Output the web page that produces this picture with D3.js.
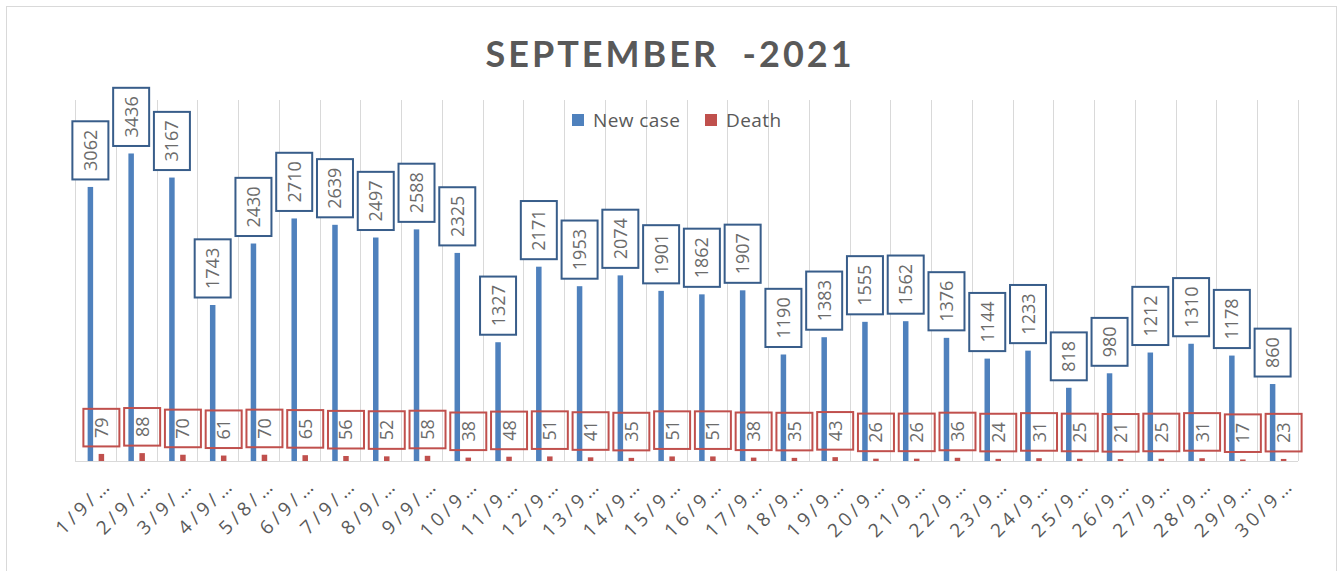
<!DOCTYPE html>
<html>
<head>
<meta charset="utf-8">
<script src="https://cdn.jsdelivr.net/npm/d3@7"></script>
<style>
  body { margin: 0; background: #fff; }
  svg { display: block; }
</style>
</head>
<body>
<svg id="chart" width="1339" height="571"></svg>
<script>
const days = ["1/9/…","2/9/…","3/9/…","4/9/…","5/8/…","6/9/…","7/9/…","8/9/…","9/9/…","10/9…",
  "11/9…","12/9…","13/9…","14/9…","15/9…","16/9…","17/9…","18/9…","19/9…","20/9…",
  "21/9…","22/9…","23/9…","24/9…","25/9…","26/9…","27/9…","28/9…","29/9…","30/9…"];
const newCases = [3062,3436,3167,1743,2430,2710,2639,2497,2588,2325,1327,2171,1953,2074,1901,
  1862,1907,1190,1383,1555,1562,1376,1144,1233,818,980,1212,1310,1178,860];
const deaths = [79,88,70,61,70,65,56,52,58,38,48,51,41,35,51,51,38,35,43,26,26,36,24,31,25,21,25,31,17,23];
const seriesNames = ["New case","Death"];
const yMax = 4000;

const BLUE = "#4F81BD", RED = "#C0504D";
const TEXT = "#595959";

const svg = d3.select("#chart");

// chart frame
svg.append("rect")
  .attr("x",6.5).attr("y",6.5).attr("width",1330).attr("height",570)
  .attr("fill","none").attr("stroke","#D9D9D9");

const x = d3.scaleBand().domain(days).range([75,1298]).padding(0);
const y = d3.scaleLinear().domain([0,yMax]).range([461,103]);
const bw = 5.5;

// vertical gridlines at category edges
const edges = d3.range(days.length+1).map(i => 75 + i*x.bandwidth());
svg.append("g").selectAll("line").data(edges).enter().append("line")
  .attr("x1",d=>Math.round(d)+0.5).attr("x2",d=>Math.round(d)+0.5)
  .attr("y1",100).attr("y2",461)
  .attr("stroke","#D9D9D9").attr("stroke-width",1);

// title
svg.append("text")
  .attr("x",670).attr("y",67)
  .attr("text-anchor","middle")
  .style("white-space","pre")
  .style("font-family","Lato, 'Open Sans', sans-serif")
  .style("font-weight","bold")
  .style("font-size","36px")
  .style("letter-spacing","3px")
  .attr("fill",TEXT)
  .text("SEPTEMBER  -2021");

// legend
const legend = svg.append("g").attr("transform","translate(572,114)");
const legX = [0,133];
seriesNames.forEach((n,i)=>{
  const g = legend.append("g").attr("transform",`translate(${legX[i]},0)`);
  g.append("rect").attr("width",12).attr("height",12).attr("fill",i===0?BLUE:RED);
  g.append("text").attr("x",21).attr("y",13)
    .style("font-family","'Open Sans', sans-serif").style("font-size","19px")
    .style("letter-spacing","0.4px")
    .attr("fill",TEXT).text(n);
});

// x axis
const xAxis = d3.axisBottom(x).tickSize(0).tickPadding(0);
const ax = svg.append("g").attr("transform","translate(0,461)").call(xAxis);
ax.select(".domain").remove();
svg.append("line").attr("x1",75).attr("x2",1298).attr("y1",461.5).attr("y2",461.5)
  .attr("stroke","#D9D9D9");
ax.selectAll("text")
  .attr("fill",TEXT)
  .attr("dy",0).attr("y",0)
  .style("font-family","'Open Sans', sans-serif")
  .style("font-size","19px")
  .style("letter-spacing","4px")
  .attr("text-anchor","end")
  .attr("transform","translate(18,25) rotate(-45)");

// bars
const blueX = d => x.bandwidth()/2 - 5 - bw/2;
const redX = d => x.bandwidth()/2 + 6 - bw/2;
svg.append("g").selectAll("rect").data(newCases).enter().append("rect")
  .attr("x",(d,i)=>x(days[i]) + blueX())
  .attr("y",d=>y(d)).attr("width",bw).attr("height",d=>y(0)-y(d))
  .attr("fill",BLUE);
svg.append("g").selectAll("rect").data(deaths).enter().append("rect")
  .attr("x",(d,i)=>x(days[i]) + redX())
  .attr("y",d=>y(d)).attr("width",bw).attr("height",d=>y(0)-y(d))
  .attr("fill",RED);

// data label boxes
function labels(values, offsetFn, color, fill){
  const g = svg.append("g");
  values.forEach((v,i)=>{
    const cx = x(days[i]) + offsetFn() + bw/2;
    const lg = g.append("g");
    const box = lg.append("rect");
    const t = lg.append("text")
      .attr("text-anchor","middle")
      .style("font-family","'Open Sans', sans-serif")
      .style("font-size","18px")
      .attr("fill","#6b6b6b")
      .text(v);
    const len = t.node().getComputedTextLength();
    const h = len + 17, w = 36;
    const bottom = y(v) - 7.5;
    box.attr("x",cx - w/2).attr("y",bottom - h).attr("width",w).attr("height",h)
      .attr("fill",fill).attr("stroke",color).attr("stroke-width",2);
    t.attr("transform",`translate(${cx+6.5},${bottom - h/2}) rotate(-90)`);
  });
}
labels(newCases, blueX, "#385D8A", "#fff");
labels(deaths, redX, RED, "none");
</script>
</body>
</html>
